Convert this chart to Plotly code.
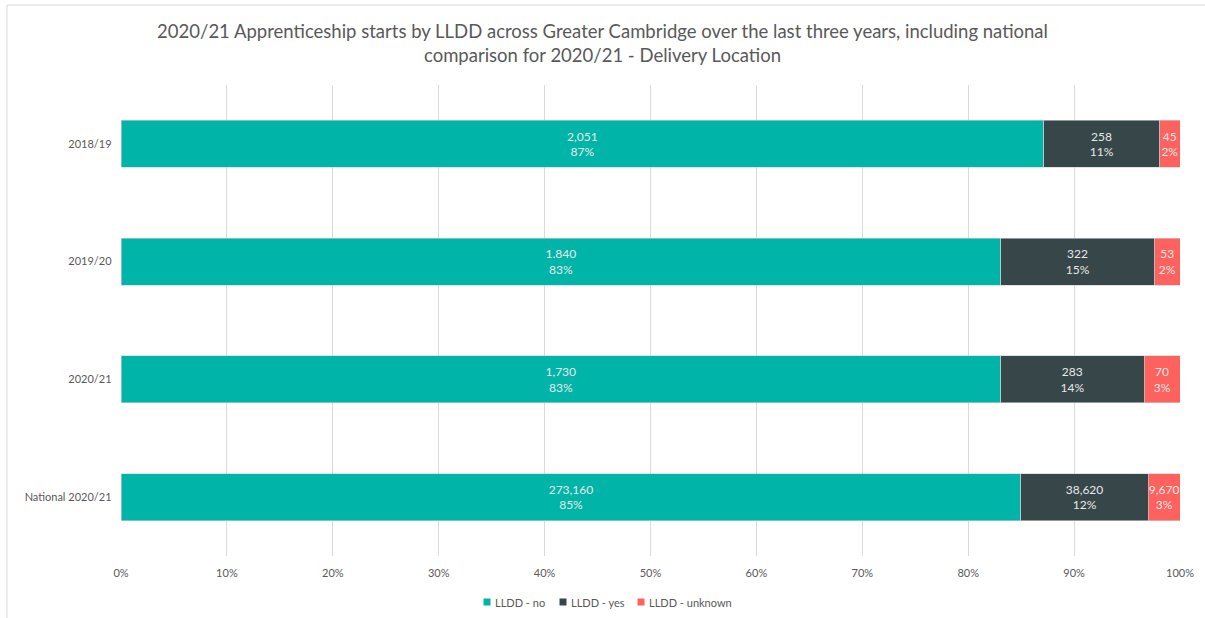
import plotly.graph_objects as go

categories = ["2018/19", "2019/20", "2020/21", "National 2020/21"]
series_names = ["LLDD - no", "LLDD - yes", "LLDD - unknown"]
lldd_no = [2051, 1840, 1730, 273160]
lldd_yes = [258, 322, 283, 38620]
lldd_unknown = [45, 53, 70, 9670]
# count labels as printed on the chart
lldd_no_labels = ["2,051", "1.840", "1,730", "273,160"]
lldd_yes_labels = ["258", "322", "283", "38,620"]
lldd_unknown_labels = ["45", "53", "70", "9,670"]
x_ticks = [0, 10, 20, 30, 40, 50, 60, 70, 80, 90, 100]
x_tick_labels = [f"{t}%" for t in x_ticks]
colors = ["#00B5A8", "#374649", "#FD625E"]

totals = [a + b + c for a, b, c in zip(lldd_no, lldd_yes, lldd_unknown)]

W, H = 1205, 618
ml, mr, mt, mb = 121, 25, 85, 62
FONT = "Lato, Open Sans, sans-serif"

fig = go.Figure()
for name, vals, labs, col in zip(series_names,
                                 [lldd_no, lldd_yes, lldd_unknown],
                                 [lldd_no_labels, lldd_yes_labels, lldd_unknown_labels],
                                 colors):
    texts = [f"{l}<br>{round(v / t * 100)}%" for v, l, t in zip(vals, labs, totals)]
    fig.add_trace(go.Bar(
        y=categories, x=vals, name=name, orientation="h",
        marker=dict(color=col, line=dict(color="#d0d0d0", width=0.6)),
        text=texts, textposition="inside", insidetextanchor="middle",
        textangle=0, constraintext="none",
        textfont=dict(family=FONT, size=12, color="#e8e8e8"),
        hoverinfo="skip", showlegend=False,
    ))

pw = W - ml - mr
ph = H - mt - mb
def px_x(p):
    return (p - ml) / pw
def px_y(p):
    return (H - mb - p) / ph

shapes = [
    dict(type="line", xref="paper", yref="paper",
         x0=px_x(7), x1=px_x(7), y0=px_y(5), y1=px_y(618),
         line=dict(color="#d9d9d9", width=1)),
    dict(type="line", xref="paper", yref="paper",
         x0=px_x(7), x1=px_x(1205), y0=px_y(5), y1=px_y(5),
         line=dict(color="#d9d9d9", width=1)),
]
annotations = []
# legend: square markers + labels
legend_sq_x = [487, 563, 641]
legend_y = 602
for name, col, sx in zip(series_names, colors, legend_sq_x):
    shapes.append(dict(type="rect", xref="paper", yref="paper",
                       x0=px_x(sx - 3.5), x1=px_x(sx + 3.5),
                       y0=px_y(legend_y + 3.5), y1=px_y(legend_y - 3.5),
                       fillcolor=col, line=dict(width=0)))
    annotations.append(dict(xref="paper", yref="paper", x=px_x(sx + 6), y=px_y(legend_y),
                            xanchor="left", yanchor="middle", showarrow=False,
                            text=name, font=dict(family=FONT, size=11, color="#595959")))

fig.update_layout(
    width=W, height=H,
    barmode="stack", barnorm="percent", bargap=0.6,
    margin=dict(l=ml, r=mr, t=mt, b=mb),
    paper_bgcolor="white", plot_bgcolor="white",
    font=dict(family=FONT, color="#595959"),
    title=dict(
        text="2020/21 Apprenticeship starts by LLDD across Greater Cambridge over the last three years, including national<br>comparison for 2020/21 - Delivery Location",
        x=0.5, xanchor="center", y=1 - 37.5 / H, yanchor="middle",
        font=dict(size=18.5, color="#595959", family=FONT),
    ),
    xaxis=dict(
        range=[0, 100], tickvals=x_ticks, ticktext=x_tick_labels,
        showgrid=True, gridcolor="#d9d9d9", gridwidth=1,
        zeroline=False, showline=False,
        tickfont=dict(size=11, color="#595959"), ticks="",
        ticklabelstandoff=9,
    ),
    yaxis=dict(
        categoryorder="array", categoryarray=categories, autorange="reversed",
        showgrid=False, zeroline=False, showline=False,
        tickfont=dict(size=11, color="#595959"), ticks="", ticksuffix="   ",
    ),
    showlegend=False,
    shapes=shapes,
    annotations=annotations,
)

fig.write_html("out.html", config={"displayModeBar": False},
               post_script="document.body.style.margin='0';document.body.style.overflow='hidden';")
